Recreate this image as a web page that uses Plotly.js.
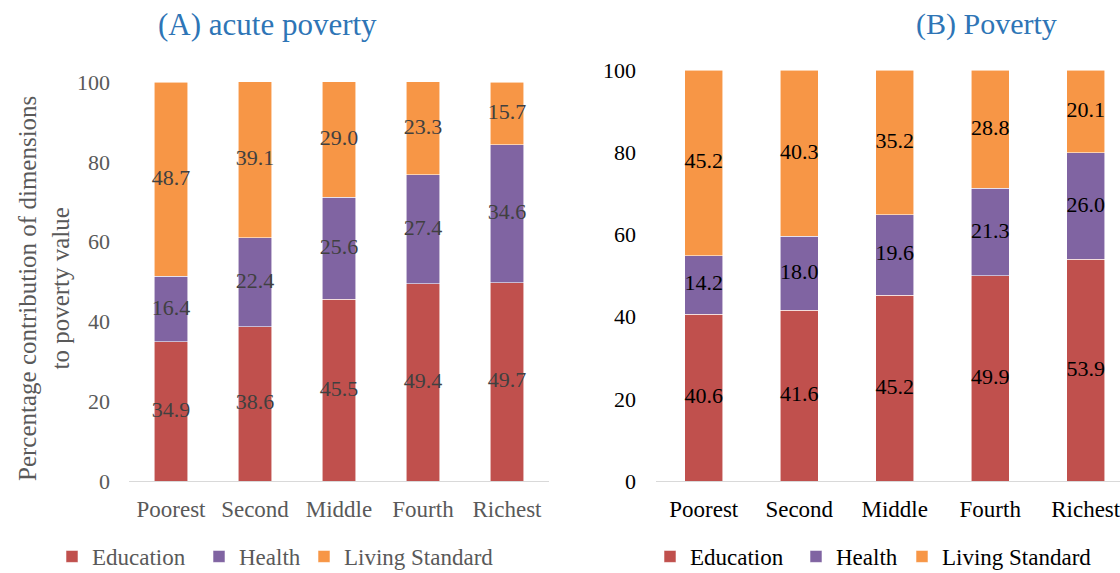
<!DOCTYPE html>
<html>
<head>
<meta charset="utf-8">
<script src="https://cdn.plot.ly/plotly-3.0.1.min.js"></script>
<style>html,body{margin:0;padding:0;background:#fff;}#chart{width:1120px;height:573px;}</style>
</head>
<body>
<div id="chart"></div>
<script>
// ---- Data ----
const categories = ["Poorest", "Second", "Middle", "Fourth", "Richest"];
const seriesNames = ["Education", "Health", "Living Standard"];

// Panel A: acute poverty
const acuteEducation = [34.9, 38.6, 45.5, 49.4, 49.7];
const acuteHealth = [16.4, 22.4, 25.6, 27.4, 34.6];
const acuteLiving = [48.7, 39.1, 29.0, 23.3, 15.7];

// Panel B: poverty
const povEducation = [40.6, 41.6, 45.2, 49.9, 53.9];
const povHealth = [14.2, 18.0, 19.6, 21.3, 26.0];
const povLiving = [45.2, 40.3, 35.2, 28.8, 20.1];

const titleA = "(A) acute poverty";
const titleB = "(B) Poverty";
const yTitle = "Percentage contribution of dimensions<br>to poverty value";

// ---- Styles ----
const colors = ["#C0504D", "#8064A2", "#F79646"];
const FONT = "Liberation Serif";
const W = 1120, H = 573;
const px = v => v / W;
const py = v => (H - v) / H;

// one legend per entry so each can be placed like the original
const legendIdsA = ["legend", "legend2", "legend3"];
const legendIdsB = ["legend4", "legend5", "legend6"];
const legendXA = [52, 199, 304];
const legendXB = [650, 796, 902];

function barTraces(seriesList, xa, ya, legendIds) {
  return seriesList.map((vals, i) => ({
    type: "bar",
    name: seriesNames[i],
    x: categories,
    y: vals,
    xaxis: xa,
    yaxis: ya,
    legend: legendIds[i],
    marker: { color: colors[i], line: { color: "rgba(255,255,255,0.7)", width: 0.8 } },
    hoverinfo: "skip"
  }));
}

function labelTraces(seriesList, xa, ya, color) {
  const out = [];
  const base = categories.map(() => 0);
  seriesList.forEach(vals => {
    const mids = vals.map((v, j) => base[j] + v / 2);
    out.push({
      type: "scatter",
      mode: "text",
      x: categories,
      y: mids,
      text: vals.map(v => v.toFixed(1)),
      textposition: "middle center",
      textfont: { family: FONT, size: 22, color: color },
      xaxis: xa,
      yaxis: ya,
      showlegend: false,
      hoverinfo: "skip",
      cliponaxis: false
    });
    vals.forEach((v, j) => base[j] += v);
  });
  return out;
}

const seriesA = [acuteEducation, acuteHealth, acuteLiving];
const seriesB = [povEducation, povHealth, povLiving];

const data = [
  ...barTraces(seriesA, "x", "y", legendIdsA),
  ...barTraces(seriesB, "x2", "y2", legendIdsB),
  ...labelTraces(seriesA, "x", "y", "#404040"),
  ...labelTraces(seriesB, "x2", "y2", "#000000")
];

function legendBox(xPix, color) {
  return {
    orientation: "h",
    x: px(xPix), xanchor: "left",
    y: py(578), yanchor: "bottom",
    font: { family: FONT, size: 23, color: color },
    bgcolor: "rgba(0,0,0,0)"
  };
}

const layout = {
  width: W, height: H,
  margin: { l: 0, r: 0, t: 0, b: 0, autoexpand: false },
  paper_bgcolor: "#ffffff",
  plot_bgcolor: "rgba(0,0,0,0)",
  barmode: "stack",
  bargap: 0.6,
  font: { family: FONT },
  xaxis: {
    domain: [px(129), px(549)],
    type: "category",
    range: [-0.5, 4.5],
    showline: true, linecolor: "#D9D9D9", linewidth: 1.3,
    showgrid: false, zeroline: false, ticks: "",
    ticklabelstandoff: 7,
    tickfont: { family: FONT, size: 23, color: "#595959" },
    fixedrange: true
  },
  yaxis: {
    domain: [py(481), py(82)],
    range: [0, 100],
    tickvals: [0, 20, 40, 60, 80, 100],
    showline: false, showgrid: false, zeroline: false, ticks: "",
    ticklabelstandoff: 18,
    tickfont: { family: FONT, size: 22, color: "#595959" },
    fixedrange: true
  },
  xaxis2: {
    domain: [px(656), 1],
    type: "category",
    anchor: "y2",
    range: [-0.5, 4.359],
    showline: true, linecolor: "#D9D9D9", linewidth: 1.3,
    showgrid: false, zeroline: false, ticks: "",
    ticklabelstandoff: 7,
    tickfont: { family: FONT, size: 23, color: "#000000" },
    fixedrange: true
  },
  yaxis2: {
    domain: [py(481), py(70)],
    anchor: "x2",
    range: [0, 100],
    tickvals: [0, 20, 40, 60, 80, 100],
    showline: false, showgrid: false, zeroline: false, ticks: "",
    ticklabelstandoff: 19,
    tickfont: { family: FONT, size: 22, color: "#000000" },
    fixedrange: true
  },
  legend: legendBox(legendXA[0], "#595959"),
  legend2: legendBox(legendXA[1], "#595959"),
  legend3: legendBox(legendXA[2], "#595959"),
  legend4: legendBox(legendXB[0], "#000000"),
  legend5: legendBox(legendXB[1], "#000000"),
  legend6: legendBox(legendXB[2], "#000000"),
  annotations: [
    { text: titleA, xref: "paper", yref: "paper", x: px(267), y: py(24),
      xanchor: "center", yanchor: "middle", showarrow: false,
      font: { family: FONT, size: 31, color: "#2E75B6" } },
    { text: titleB, xref: "paper", yref: "paper", x: px(986), y: py(24),
      xanchor: "center", yanchor: "middle", showarrow: false,
      font: { family: FONT, size: 30, color: "#2E75B6" } },
    { text: yTitle, xref: "paper", yref: "paper", x: px(44), y: py(289),
      xanchor: "center", yanchor: "middle", showarrow: false, textangle: -90,
      font: { family: FONT, size: 25, color: "#595959" } }
  ],
  showlegend: true
};

Plotly.newPlot("chart", data, layout, { displayModeBar: false, staticPlot: true });
</script>
</body>
</html>
